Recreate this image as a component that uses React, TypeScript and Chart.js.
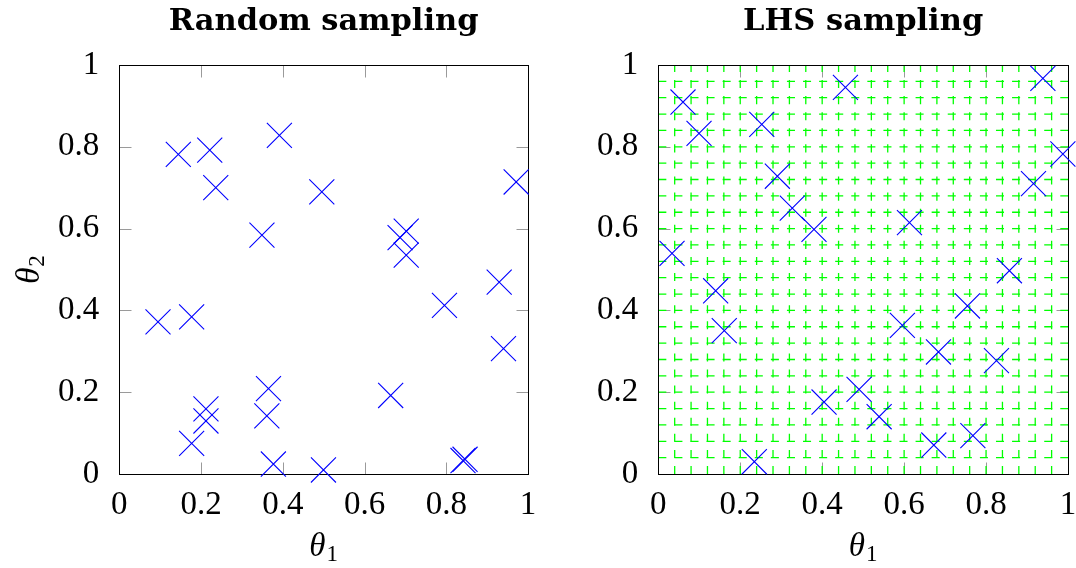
import React, { useEffect, useRef } from 'react';
import { Chart, registerables } from 'chart.js';

Chart.register(...registerables);

// ---- data ----
const randomTheta1 = [0.1444, 0.2213, 0.236, 0.3917, 0.4955, 0.349, 0.971, 0.702, 0.687, 0.702, 0.0947, 0.177, 0.365, 0.361, 0.212, 0.212, 0.177, 0.377, 0.9295, 0.7956, 0.94, 0.664, 0.841, 0.846, 0.4995];
const randomTheta2 = [0.7817, 0.792, 0.7, 0.828, 0.69, 0.584, 0.714, 0.594, 0.578, 0.535, 0.372, 0.384, 0.2086, 0.142, 0.159, 0.1296, 0.075, 0.0244, 0.469, 0.4124, 0.3064, 0.192, 0.033, 0.036, 0.0098];

const lhsTheta1 = [0.0603, 0.0994, 0.2525, 0.4567, 0.2906, 0.327, 0.38, 0.0335, 0.9387, 0.9875, 0.9158, 0.613, 0.14, 0.161, 0.4046, 0.2344, 0.857, 0.7546, 0.5958, 0.6838, 0.8254, 0.49, 0.539, 0.6725, 0.7678];
const lhsTheta2 = [0.9095, 0.833, 0.855, 0.9455, 0.728, 0.65, 0.598, 0.5396, 0.9675, 0.7824, 0.7098, 0.6145, 0.448, 0.3504, 0.176, 0.03, 0.497, 0.4108, 0.3635, 0.2983, 0.277, 0.207, 0.14, 0.0709, 0.0937];

const tickValues = [0, 0.2, 0.4, 0.6, 0.8, 1];
const tickLabels = ['0', '0.2', '0.4', '0.6', '0.8', '1'];
const lhsDivisions = 25;
const panelTitles = ['Random sampling', 'LHS sampling'];
const xAxisTitle = ['θ', '1'];
const yAxisTitle = ['θ', '2'];

function drawSubLabel(ctx: CanvasRenderingContext2D, main: string, sub: string, cx: number, cy: number, rotate: boolean) {
  ctx.save();
  ctx.translate(cx, cy);
  if (rotate) ctx.rotate(-Math.PI / 2);
  ctx.fillStyle = '#000';
  ctx.textAlign = 'left';
  ctx.textBaseline = 'alphabetic';
  const mainFont = 'italic 33px "Liberation Serif"';
  const subFont = '23px "Liberation Serif"';
  ctx.font = mainFont;
  const w1 = ctx.measureText(main).width;
  ctx.font = subFont;
  const w2 = ctx.measureText(sub).width;
  const x0 = -(w1 + w2 + 1) / 2;
  ctx.font = mainFont;
  ctx.fillText(main, x0, 0);
  ctx.font = subFont;
  ctx.fillText(sub, x0 + w1 + 1, 5);
  ctx.restore();
}

interface PanelOpts {
  xs: number[];
  ys: number[];
  title: string;
  showYTitle: boolean;
  lhsGrid: boolean;
  yWidth: number;
  padRight: number;
}

function makeDecor(o: PanelOpts) {
  return {
    id: 'decor',
    beforeDatasetsDraw(chart: any) {
      const { ctx, chartArea: a, scales } = chart;
      const x = scales.x;
      const y = scales.y;
      const L = Math.round(a.left) + 0.5;
      const R = Math.round(a.right) + 0.5;
      const T = Math.round(a.top) + 0.5;
      const B = Math.round(a.bottom) + 0.5;
      ctx.save();
      // gray tick marks inside the frame
      ctx.strokeStyle = '#9a9a9a';
      ctx.lineWidth = 1;
      const tl = 12;
      tickValues.forEach((v) => {
        const px = Math.round(x.getPixelForValue(v)) + 0.5;
        const py = Math.round(y.getPixelForValue(v)) + 0.5;
        ctx.beginPath();
        ctx.moveTo(px, B); ctx.lineTo(px, B - tl);
        ctx.moveTo(px, T); ctx.lineTo(px, T + tl);
        ctx.moveTo(L, py); ctx.lineTo(L + tl, py);
        ctx.moveTo(R, py); ctx.lineTo(R - tl, py);
        ctx.stroke();
      });
      // dashed green LHS grid
      if (o.lhsGrid) {
        ctx.strokeStyle = '#00ff00';
        ctx.lineWidth = 1.3;
        ctx.lineCap = 'butt';
        ctx.setLineDash([8.04, 8.04]);
        for (let k = 1; k < lhsDivisions; k++) {
          const v = k / lhsDivisions;
          const px = x.getPixelForValue(v);
          ctx.beginPath();
          ctx.moveTo(px, a.bottom);
          ctx.lineTo(px, a.top);
          ctx.stroke();
          const py = y.getPixelForValue(v);
          ctx.beginPath();
          ctx.moveTo(a.left, py);
          ctx.lineTo(a.right, py);
          ctx.stroke();
        }
        ctx.setLineDash([]);
      }
      // frame
      ctx.strokeStyle = '#000';
      ctx.lineWidth = 1;
      ctx.strokeRect(L, T, R - L, B - T);
      ctx.restore();
    },
    afterDraw(chart: any) {
      const { ctx, chartArea: a } = chart;
      const cx = (a.left + a.right) / 2;
      ctx.save();
      ctx.fillStyle = '#000';
      ctx.font = 'bold 30.5px "DejaVu Serif"';
      ctx.textAlign = 'center';
      ctx.textBaseline = 'alphabetic';
      ctx.fillText(o.title, cx, 30);
      ctx.restore();
      drawSubLabel(ctx, xAxisTitle[0], xAxisTitle[1], cx, 556, false);
      if (o.showYTitle) {
        drawSubLabel(ctx, yAxisTitle[0], yAxisTitle[1], 39, (a.top + a.bottom) / 2, true);
      }
    },
  };
}

function makeConfig(o: PanelOpts): any {
  const tickFont = { family: '"Liberation Serif"', size: 33, lineHeight: 1.2 };
  const label = (v: any) => {
    const i = tickValues.findIndex((t) => Math.abs(t - v) < 1e-9);
    return i >= 0 ? tickLabels[i] : '';
  };
  return {
    type: 'scatter',
    data: {
      datasets: [
        {
          data: o.xs.map((v, i) => ({ x: v, y: o.ys[i] })),
          pointStyle: 'crossRot',
          pointRadius: 17.7,
          pointHoverRadius: 17.7,
          borderColor: '#0000ff',
          backgroundColor: 'rgba(0,0,0,0)',
          borderWidth: 1.1,
          showLine: false,
          clip: false,
        },
      ],
    },
    options: {
      responsive: false,
      animation: false,
      events: [],
      devicePixelRatio: 1,
      layout: { autoPadding: false, padding: { top: 65, right: o.padRight, bottom: 0, left: 0 } },
      plugins: { legend: { display: false }, tooltip: { enabled: false }, title: { display: false } },
      scales: {
        x: {
          type: 'linear',
          min: 0,
          max: 1,
          grid: { display: false },
          border: { display: false },
          afterBuildTicks: (s: any) => { s.ticks = tickValues.map((v) => ({ value: v })); },
          afterFit: (s: any) => {
            s.height = 94;
            s.paddingLeft = 0;
            s.paddingRight = 0;
            s.paddingTop = 0;
            s.paddingBottom = 0;
          },
          ticks: { autoSkip: false, maxRotation: 0, minRotation: 0, padding: 4, color: '#000', font: tickFont, callback: label },
        },
        y: {
          type: 'linear',
          min: 0,
          max: 1,
          grid: { display: false },
          border: { display: false },
          afterBuildTicks: (s: any) => { s.ticks = tickValues.map((v) => ({ value: v })); },
          afterFit: (s: any) => {
            s.width = o.yWidth;
            s.paddingLeft = 0;
            s.paddingRight = 0;
            s.paddingTop = 0;
            s.paddingBottom = 0;
          },
          ticks: { autoSkip: false, padding: 12, color: '#000', font: tickFont, callback: label },
        },
      },
    },
    plugins: [makeDecor(o)],
  };
}

function Panel({ opts, left }: { opts: PanelOpts; left: number }) {
  const ref = useRef<HTMLCanvasElement>(null);
  useEffect(() => {
    if (!ref.current) return;
    const chart = new Chart(ref.current, makeConfig(opts));
    return () => chart.destroy();
  }, []);
  return (
    <canvas
      ref={ref}
      width={538}
      height={568}
      style={{ position: 'absolute', left, top: 0, width: 538, height: 568 }}
    />
  );
}

export default function App() {
  const leftOpts: PanelOpts = {
    xs: randomTheta1, ys: randomTheta2, title: panelTitles[0], showYTitle: true, lhsGrid: false, yWidth: 119.3, padRight: 10,
  };
  const rightOpts: PanelOpts = {
    xs: lhsTheta1, ys: lhsTheta2, title: panelTitles[1], showYTitle: false, lhsGrid: true, yWidth: 120.3, padRight: 8,
  };
  return (
    <div style={{ position: 'absolute', left: 0, top: 0, width: 1076, height: 568, background: '#fff' }}>
      <Panel opts={leftOpts} left={0} />
      <Panel opts={rightOpts} left={538} />
    </div>
  );
}
